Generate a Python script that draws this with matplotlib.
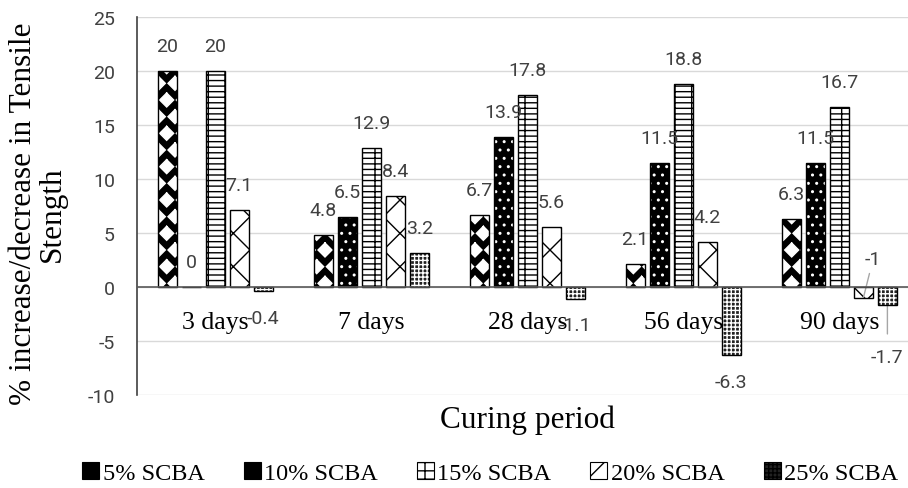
import matplotlib
matplotlib.use('Agg')
import matplotlib.pyplot as plt
import matplotlib.patches as mpatches
from matplotlib import hatch as mhatch
from matplotlib.path import Path
import numpy as np
from matplotlib import rcParams

config = {
    "font.family": ['Roboto', 'DejaVu Sans'],
    "font.size": 14,
    "hatch.linewidth": 1.0,
    "axes.unicode_minus": False,
}
rcParams.update(config)


# filled diamonds for the 'O' hatch (Excel "large confetti" look)
class Diamonds(mhatch.Shapes):
    size = 0.42
    filled = True

    def __init__(self, hatch, density):
        self.num_rows = hatch.count('O') * density
        self.shape_vertices = Path.unit_regular_polygon(4).vertices
        self.shape_codes = np.full(len(self.shape_vertices), Path.LINETO, dtype=Path.code_type)
        self.shape_codes[0] = Path.MOVETO
        super().__init__(hatch, density)


mhatch._hatch_types = [Diamonds if t is mhatch.LargeCircles else t for t in mhatch._hatch_types]

# data
periods = ['3 days', '7 days', '28 days', '56 days', '90 days']
series = ['5% SCBA', '10% SCBA', '15% SCBA', '20% SCBA', '25% SCBA']
scba5 = [20, 4.8, 6.7, 2.1, 6.3]
scba10 = [0, 6.5, 13.9, 11.5, 11.5]
scba15 = [20, 12.9, 17.8, 18.8, 16.7]
scba20 = [7.1, 8.4, 5.6, 4.2, -1]
scba25 = [-0.4, 3.2, -1.1, -6.3, -1.7]
values = [scba5, scba10, scba15, scba20, scba25]
yticks = [-10, -5, 0, 5, 10, 15, 20, 25]

# bar styles: (face, hatch colour, hatch, legend hatch)
styles = [('black', 'white', 'O', 'O'),
          ('black', 'white', '..', '..'),
          ('white', 'black', '+--', '+-'),
          ('white', 'black', 'x', '/'),
          ('#222222', 'white', '++++', '++++')]

fig = plt.figure(figsize=(9.08, 4.89), dpi=100)
ax = fig.add_axes([0.151, 0.190, 0.849, 0.773])

x = np.arange(len(periods))
pitch = 0.154
width = 0.122
handles = []
for i, vals in enumerate(values):
    xs = x + (i - 2) * pitch
    fc, hc, hatch, lh = styles[i]
    ax.bar(xs, vals, width, color=fc, edgecolor=hc, hatch=hatch, linewidth=0, zorder=3)
    ax.bar(xs, vals, width, fill=False, edgecolor='black', linewidth=1.0, zorder=4)
    handles.append(mpatches.Patch(facecolor=fc, edgecolor=hc if fc == 'white' else 'black', hatch=lh, linewidth=0.8))
    for xx, v in zip(xs, vals):
        lbl = '%g' % v
        if i == 3 and v == -1:
            ax.annotate(lbl, xy=(xx, v), xytext=(7, 28), textcoords='offset points',
                        ha='center', va='center', color='#404040', fontsize=14,
                        arrowprops=dict(arrowstyle='-', color='#a6a6a6', lw=1, shrinkA=2, shrinkB=0))
        elif i == 4 and v == -1.7:
            ax.annotate(lbl, xy=(xx, v), xytext=(0, -37), textcoords='offset points',
                        ha='center', va='center', color='#404040', fontsize=14,
                        arrowprops=dict(arrowstyle='-', color='#a6a6a6', lw=1, shrinkA=8, shrinkB=0))
        else:
            off = 18 if v >= 0 else -19
            ax.annotate(lbl, xy=(xx, v), xytext=(0, off), textcoords='offset points',
                        ha='center', va='center', color='#404040', fontsize=14, zorder=5)

# category labels under the zero line
for xx, p in zip(x, periods):
    ax.annotate(p, xy=(xx, 0), xytext=(0, -25), textcoords='offset points',
                ha='center', va='center', fontsize=18.5, family='Liberation Serif', color='black', zorder=5)

ax.set_xlim(-0.5, 4.44)
ax.set_ylim(-10, 25)
ax.set_yticks(yticks)
ax.set_xticks([])
ax.tick_params(axis='y', length=0, pad=16, labelsize=14, labelcolor='#404040')
ax.grid(axis='y', color='#d9d9d9', linewidth=1, zorder=0)
ax.axhline(0, color='#595959', linewidth=1.2, zorder=5)
for s in ['top', 'right', 'bottom']:
    ax.spines[s].set_visible(False)
ax.spines['left'].set_color('#404040')
ax.spines['left'].set_linewidth(1.2)

fig.text(0.042, 0.562, '% increase/decrease in Tensile\nStength', rotation=90, ha='center', va='center',
         multialignment='center', fontsize=22.5, family='Liberation Serif', linespacing=1.0)
fig.text(0.581, 0.141, 'Curing period', ha='center', va='center', fontsize=22.5, family='Liberation Serif')

fig.legend(handles=handles, labels=series, loc='center', bbox_to_anchor=(0.540, 0.030), ncol=5, frameon=False,
           prop={'family': 'Liberation Serif', 'size': 17.5}, handlelength=0.7, handleheight=0.7,
           handletextpad=0.15, columnspacing=1.6, borderpad=0)

plt.savefig('out.png', dpi=100)
